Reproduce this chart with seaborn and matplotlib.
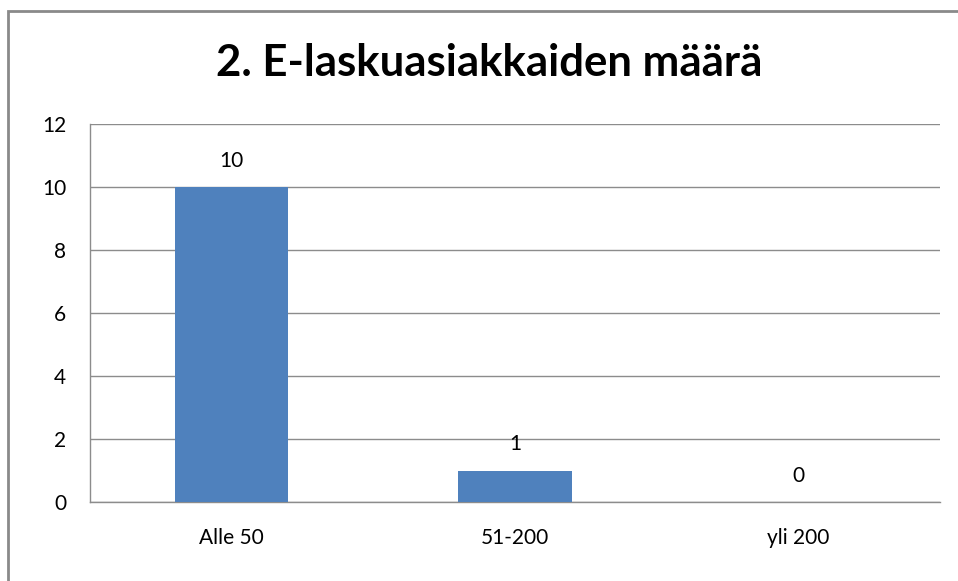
import matplotlib
matplotlib.use("Agg")
import matplotlib.pyplot as plt
import seaborn as sns
from matplotlib.patches import Rectangle

categories = ["Alle 50", "51-200", "yli 200"]
counts = [10, 1, 0]
y_ticks = [0, 2, 4, 6, 8, 10, 12]

sns.set_style("white")
plt.rcParams["font.family"] = ["Lato", "DejaVu Sans"]
plt.rcParams["text.color"] = "black"
plt.rcParams["xtick.labelcolor"] = "black"
plt.rcParams["ytick.labelcolor"] = "black"

fig = plt.figure(figsize=(9.58, 5.81), dpi=100)
ax = fig.add_axes([90 / 958, 79 / 581, 850 / 958, 378 / 581])

sns.barplot(x=categories, y=counts, color="#4F81BD", width=0.4,
            saturation=1, linewidth=0, ax=ax, zorder=3)

ax.set_ylim(0, 12)
ax.set_xlim(-0.5, 2.5)
ax.set_yticks(y_ticks)
ax.yaxis.grid(True, color="#8c8c8c", linewidth=1)
ax.set_axisbelow(True)

# category ticks sit between the bars, labels under the bar centres
ax.set_xticks([-0.5, 0.5, 1.5, 2.5])
ax.set_xticklabels([])
ax.set_xticks([0, 1, 2], minor=True)
ax.set_xticklabels(categories, minor=True, fontsize=15)
ax.tick_params(axis="x", which="major", length=7, color="#8c8c8c", width=1)
ax.tick_params(axis="x", which="minor", length=0, pad=19)
ax.tick_params(axis="y", length=9, color="#8c8c8c", width=1, labelsize=15, pad=8)

for side in ["top", "right"]:
    ax.spines[side].set_visible(False)
for side in ["left", "bottom"]:
    ax.spines[side].set_color("#8c8c8c")
    ax.spines[side].set_linewidth(1)

for i, v in enumerate(counts):
    ax.annotate(str(v), (i, v), xytext=(0, 19), textcoords="offset points",
                ha="center", va="center", fontsize=15, color="black")

ax.set_xlabel("")
ax.set_ylabel("")

fig.text(489 / 958, 1 - 63 / 581, "2. E-laskuasiakkaiden määrä",
         ha="center", va="center", fontsize=31.5, fontweight="bold",
         color="black")

# chart frame, running off the right and bottom edges
fig.patches.append(Rectangle((8 / 958, -0.05), 1.0, 1 - 11 / 581 + 0.05,
                             transform=fig.transFigure, fill=False,
                             edgecolor="#8a8a8a", linewidth=2))

fig.savefig("out.png", dpi=100)
